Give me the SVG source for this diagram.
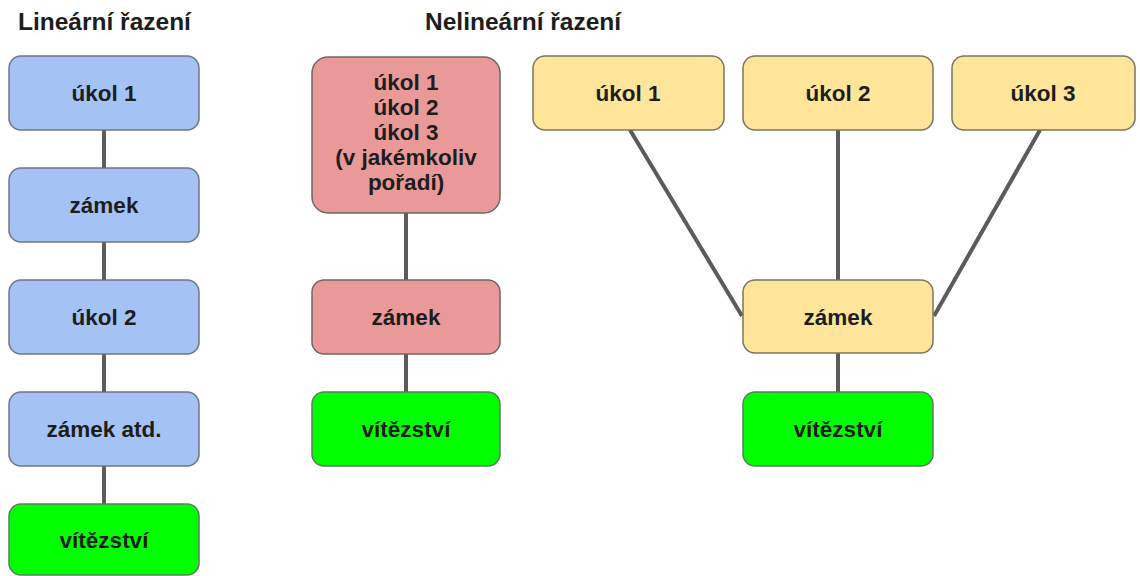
<svg xmlns="http://www.w3.org/2000/svg" width="1140" height="576" viewBox="0 0 1140 576">
<style>
.t{font-family:"Liberation Sans",Arial,sans-serif;font-weight:bold;fill:#1d1d1d;text-anchor:middle;font-size:22.5px}
.h{font-family:"Liberation Sans",Arial,sans-serif;font-weight:bold;fill:#1d1d1d;font-size:24.5px}
.b{fill:#a4c2f4;stroke:#6f7582;stroke-width:1.5}
.r{fill:#ea9999;stroke:#6f6666;stroke-width:1.5}
.y{fill:#ffe599;stroke:#7a7560;stroke-width:1.5}
.g{fill:#00ff00;stroke:#5f7a5f;stroke-width:1.5}
.c{stroke:#5b5b5b;stroke-width:4;fill:none}
</style>
<rect width="1140" height="576" fill="#ffffff"/>
<text class="h" x="18" y="30">Lineární řazení</text>
<text class="h" x="425" y="30">Nelineární řazení</text>
<g id="connectors">
<line class="c" x1="104" y1="130" x2="104" y2="168"/>
<line class="c" x1="104" y1="242" x2="104" y2="280"/>
<line class="c" x1="104" y1="354" x2="104" y2="392"/>
<line class="c" x1="104" y1="466" x2="104" y2="504"/>
<line class="c" x1="406" y1="213" x2="406" y2="280"/>
<line class="c" x1="406" y1="354" x2="406" y2="392"/>
<line class="c" x1="630" y1="130" x2="742" y2="316"/>
<line class="c" x1="838" y1="130" x2="838" y2="280"/>
<line class="c" x1="1040" y1="130" x2="934" y2="316"/>
<line class="c" x1="838" y1="353" x2="838" y2="392"/>
</g>
<g id="lin-ukol1"><rect class="b" x="9" y="56" width="190" height="74" rx="12"/><text class="t" x="104" y="101">úkol 1</text></g>
<g id="lin-zamek"><rect class="b" x="9" y="168" width="190" height="74" rx="12"/><text class="t" x="104" y="213">zámek</text></g>
<g id="lin-ukol2"><rect class="b" x="9" y="280" width="190" height="74" rx="12"/><text class="t" x="104" y="325">úkol 2</text></g>
<g id="lin-zamek-atd"><rect class="b" x="9" y="392" width="190" height="74" rx="12"/><text class="t" x="104" y="437">zámek atd.</text></g>
<g id="lin-vitezstvi"><rect class="g" x="9" y="504" width="190" height="71" rx="12"/><text class="t" x="104" y="548">vítězství</text></g>
<g id="mid-ukoly"><rect class="r" x="312" y="57" width="188" height="156" rx="16"/>
<text class="t" x="406" y="90">úkol 1</text>
<text class="t" x="406" y="115">úkol 2</text>
<text class="t" x="406" y="140">úkol 3</text>
<text class="t" x="406" y="165">(v jakémkoliv</text>
<text class="t" x="406" y="190">pořadí)</text></g>
<g id="mid-zamek"><rect class="r" x="312" y="280" width="188" height="74" rx="12"/><text class="t" x="406" y="325">zámek</text></g>
<g id="mid-vitezstvi"><rect class="g" x="312" y="392" width="188" height="74" rx="12"/><text class="t" x="406" y="437">vítězství</text></g>
<g id="nl-ukol1"><rect class="y" x="533" y="56" width="191" height="74" rx="12"/><text class="t" x="628" y="101">úkol 1</text></g>
<g id="nl-ukol2"><rect class="y" x="743" y="56" width="190" height="74" rx="12"/><text class="t" x="838" y="101">úkol 2</text></g>
<g id="nl-ukol3"><rect class="y" x="952" y="56" width="183" height="74" rx="12"/><text class="t" x="1043" y="101">úkol 3</text></g>
<g id="nl-zamek"><rect class="y" x="743" y="280" width="190" height="73" rx="12"/><text class="t" x="838" y="325">zámek</text></g>
<g id="nl-vitezstvi"><rect class="g" x="743" y="392" width="190" height="74" rx="12"/><text class="t" x="838" y="437">vítězství</text></g>
</svg>
